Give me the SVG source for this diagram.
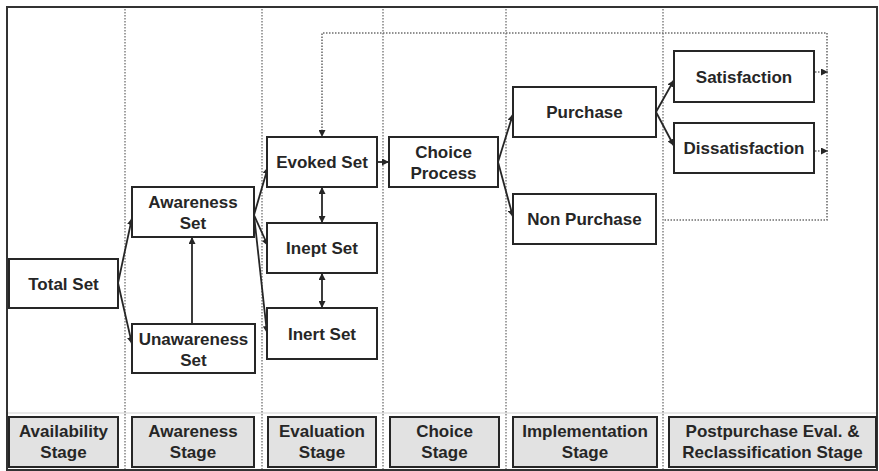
<svg xmlns="http://www.w3.org/2000/svg" width="879" height="471" viewBox="0 0 879 471">
  <style>
    .node rect { fill: #ffffff; stroke: #262626; stroke-width: 2; }
    .stage rect { fill: #e2e2e2; stroke: #262626; stroke-width: 2; }
    text { font-family: "Liberation Sans", Arial, sans-serif; font-weight: bold; font-size: 17px; fill: #262626; text-anchor: middle; }
    .divider { stroke: #8a8a8a; stroke-width: 1.6; stroke-dasharray: 1.5 1.5; fill: none; }
    .link { stroke: #262626; stroke-width: 1.8; fill: none; }
    .feedback { stroke: #6e6e6e; stroke-width: 1.6; stroke-dasharray: 1.5 1.5; fill: none; }
  </style>
  <defs>
    <marker id="head" viewBox="0 0 10 10" refX="10" refY="5" markerWidth="7" markerHeight="7" markerUnits="userSpaceOnUse" orient="auto">
      <path d="M0,0 L10,5 L0,10 Z" fill="#262626"/>
    </marker>
    <marker id="tail" viewBox="0 0 10 10" refX="0" refY="5" markerWidth="7" markerHeight="7" markerUnits="userSpaceOnUse" orient="auto">
      <path d="M10,0 L0,5 L10,10 Z" fill="#262626"/>
    </marker>
  </defs>

  <rect x="0" y="0" width="879" height="471" fill="#ffffff"/>
  <!-- outer frame -->
  <rect x="7" y="7" width="870" height="463" fill="none" stroke="#333333" stroke-width="2"/>
  <!-- faint rule above the stage captions -->
  <line x1="8" y1="413" x2="876" y2="413" stroke="#d2d2d2" stroke-width="1.2"/>

  <!-- stage dividers -->
  <g id="dividers">
    <line class="divider" x1="125" y1="9" x2="125" y2="469"/>
    <line class="divider" x1="262" y1="9" x2="262" y2="469"/>
    <line class="divider" x1="383" y1="9" x2="383" y2="469"/>
    <line class="divider" x1="506" y1="9" x2="506" y2="469"/>
    <line class="divider" x1="663" y1="9" x2="663" y2="469"/>
  </g>

  <!-- connectors -->
  <g id="connectors">
    <path class="link" d="M118,283 L132,218" marker-end="url(#head)"/>
    <path class="link" d="M118,283 L132,344" marker-end="url(#head)"/>
    <path class="link" d="M192,324 L192,237" marker-end="url(#head)"/>
    <path class="link" d="M254,215 L268,167" marker-end="url(#head)"/>
    <path class="link" d="M254,215 L268,246" marker-end="url(#head)"/>
    <path class="link" d="M254,215 L267,333" marker-end="url(#head)"/>
    <path class="link" d="M322,187 L322,223" marker-start="url(#tail)" marker-end="url(#head)"/>
    <path class="link" d="M322,273 L322,308" marker-start="url(#tail)" marker-end="url(#head)"/>
    <path class="link" d="M377,162 L389,162" marker-end="url(#head)"/>
    <path class="link" d="M498,162 L513,114" marker-end="url(#head)"/>
    <path class="link" d="M498,162 L513,217" marker-end="url(#head)"/>
    <path class="link" d="M656,112 L674,80" marker-end="url(#head)"/>
    <path class="link" d="M656,112 L674,146" marker-end="url(#head)"/>
    <!-- reclassification feedback loop -->
    <path class="feedback" d="M322,137 V33 H827 V220 H663" marker-start="url(#tail)"/>
    <path class="feedback" d="M815,72 L828,72" marker-end="url(#head)"/>
    <path class="feedback" d="M815,151 L828,151" marker-end="url(#head)"/>
  </g>

  <!-- set nodes -->
  <g id="total-set" class="node">
    <rect x="9" y="259" width="109" height="49"/>
    <text x="63.5" y="290">Total Set</text>
  </g>
  <g id="awareness-set" class="node">
    <rect x="132" y="187" width="122" height="50"/>
    <text x="193" y="208">Awareness</text>
    <text x="193" y="229">Set</text>
  </g>
  <g id="unawareness-set" class="node">
    <rect x="132" y="324" width="123" height="49"/>
    <text x="193.5" y="345">Unawareness</text>
    <text x="193.5" y="366">Set</text>
  </g>
  <g id="evoked-set" class="node">
    <rect x="267" y="137" width="110" height="50"/>
    <text x="322" y="168">Evoked Set</text>
  </g>
  <g id="inept-set" class="node">
    <rect x="267" y="223" width="110" height="50"/>
    <text x="322" y="254">Inept Set</text>
  </g>
  <g id="inert-set" class="node">
    <rect x="267" y="308" width="110" height="51"/>
    <text x="322" y="340">Inert Set</text>
  </g>
  <g id="choice-process" class="node">
    <rect x="389" y="137" width="109" height="50"/>
    <text x="443.5" y="158">Choice</text>
    <text x="443.5" y="179">Process</text>
  </g>
  <g id="purchase" class="node">
    <rect x="513" y="87" width="143" height="50"/>
    <text x="584.5" y="118">Purchase</text>
  </g>
  <g id="non-purchase" class="node">
    <rect x="513" y="194" width="143" height="50"/>
    <text x="584.5" y="225">Non Purchase</text>
  </g>
  <g id="satisfaction" class="node">
    <rect x="674" y="51" width="140" height="51"/>
    <text x="744" y="83">Satisfaction</text>
  </g>
  <g id="dissatisfaction" class="node">
    <rect x="674" y="123" width="140" height="50"/>
    <text x="744" y="154">Dissatisfaction</text>
  </g>

  <!-- stage captions -->
  <g id="stage-availability" class="stage">
    <rect x="9" y="417" width="109" height="50"/>
    <text x="63.5" y="437">Availability</text>
    <text x="63.5" y="458">Stage</text>
  </g>
  <g id="stage-awareness" class="stage">
    <rect x="132" y="417" width="122" height="50"/>
    <text x="193" y="437">Awareness</text>
    <text x="193" y="458">Stage</text>
  </g>
  <g id="stage-evaluation" class="stage">
    <rect x="268" y="417" width="108" height="50"/>
    <text x="322" y="437">Evaluation</text>
    <text x="322" y="458">Stage</text>
  </g>
  <g id="stage-choice" class="stage">
    <rect x="390" y="417" width="109" height="50"/>
    <text x="444.5" y="437">Choice</text>
    <text x="444.5" y="458">Stage</text>
  </g>
  <g id="stage-implementation" class="stage">
    <rect x="513" y="417" width="144" height="50"/>
    <text x="585" y="437">Implementation</text>
    <text x="585" y="458">Stage</text>
  </g>
  <g id="stage-postpurchase" class="stage">
    <rect x="669" y="417" width="207" height="50"/>
    <text x="772.5" y="437">Postpurchase Eval. &amp;</text>
    <text x="772.5" y="458">Reclassification Stage</text>
  </g>
</svg>
